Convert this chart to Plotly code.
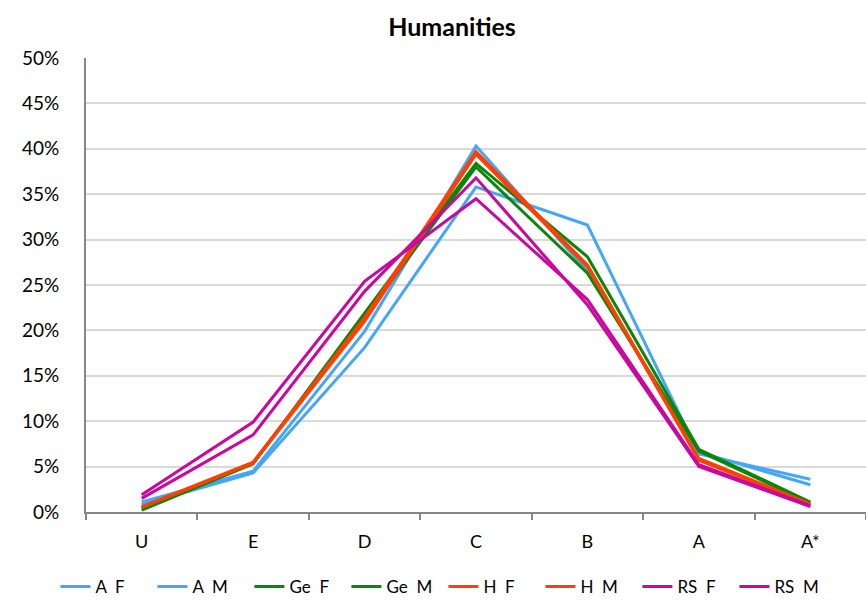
import plotly.graph_objects as go

grades = ["U", "E", "D", "C", "B", "A", "A*"]

a_f = [0.011, 0.045, 0.199, 0.403, 0.265, 0.066, 0.030]
a_m = [0.008, 0.043, 0.181, 0.358, 0.316, 0.064, 0.036]
ge_f = [0.002, 0.053, 0.219, 0.384, 0.281, 0.069, 0.011]
ge_m = [0.004, 0.054, 0.215, 0.380, 0.263, 0.067, 0.010]
h_f = [0.006, 0.055, 0.214, 0.397, 0.272, 0.059, 0.009]
h_m = [0.005, 0.054, 0.210, 0.394, 0.270, 0.057, 0.008]
rs_f = [0.019, 0.099, 0.254, 0.345, 0.234, 0.052, 0.007]
rs_m = [0.015, 0.085, 0.243, 0.368, 0.228, 0.050, 0.006]

series_names = ["A\u00a0\u00a0F", "A\u00a0\u00a0M", "Ge\u00a0\u00a0F", "Ge\u00a0\u00a0M",
                "H\u00a0\u00a0F", "H\u00a0\u00a0M", "RS\u00a0\u00a0F", "RS\u00a0\u00a0M"]
series_values = [a_f, a_m, ge_f, ge_m, h_f, h_m, rs_f, rs_m]
series_colors = ["#45a6f7", "#45a6f7", "#0a870a", "#0a870a",
                 "#ff4000", "#ff4000", "#c8089e", "#c8089e"]

FONT = "Lato, Liberation Sans, sans-serif"

fig = go.Figure()
for name, vals, col in zip(series_names, series_values, series_colors):
    fig.add_trace(go.Scatter(
        x=grades, y=vals, name=name, mode="lines",
        line=dict(color=col, width=3),
    ))

fig.update_layout(
    width=866, height=605,
    margin=dict(l=86, r=0, t=58, b=93, autoexpand=False),
    paper_bgcolor="white", plot_bgcolor="white",
    font=dict(family=FONT, size=18, color="#000000"),
    title=dict(text="<b>Humanities</b>", x=0.522, xanchor="center",
               y=0.955, yanchor="middle", font=dict(family=FONT, size=25)),
    showlegend=True,
    legend=dict(orientation="h", xref="container", yref="container",
                x=0.064, xanchor="left", y=-0.039, yanchor="bottom",
                font=dict(family=FONT, size=17), itemwidth=30,
                entrywidth=52, entrywidthmode="pixels",
                traceorder="normal", bgcolor="rgba(0,0,0,0)"),
)

fig.update_xaxes(
    type="category", categoryorder="array", categoryarray=grades,
    range=[-0.5, 6.5], showgrid=False,
    showline=True, linecolor="#868686", linewidth=2,
    ticks="outside", tickson="boundaries", ticklen=6, tickcolor="#868686",
    tickwidth=1.5, ticklabelstandoff=12, tickfont=dict(size=18),
)
fig.update_yaxes(
    range=[0, 0.5], dtick=0.05, tickformat=".0%",
    showgrid=True, gridcolor="#d9d9d9", gridwidth=1.5,
    showline=True, linecolor="#868686", linewidth=2,
    ticks="", ticklabelstandoff=21, zeroline=False, tickfont=dict(size=19),
)

fig.write_html("out.html")
